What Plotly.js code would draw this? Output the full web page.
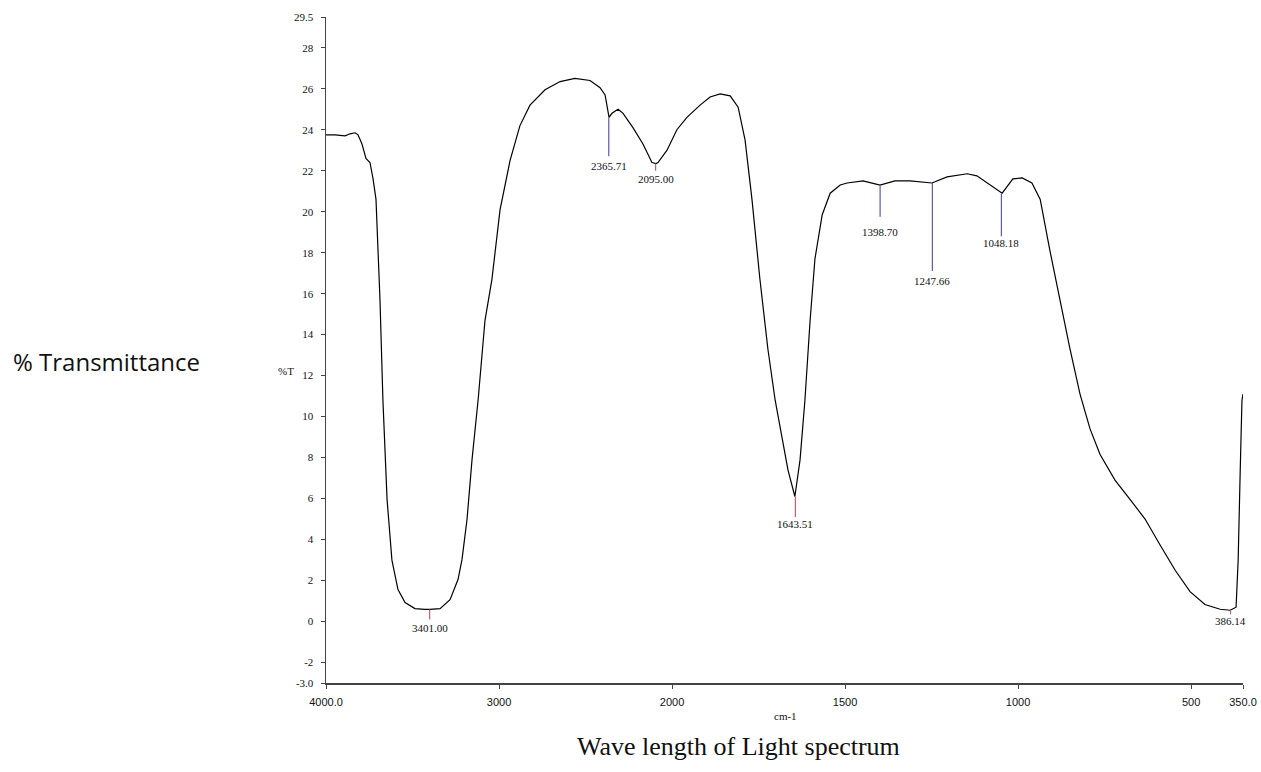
<!DOCTYPE html>
<html>
<head>
<meta charset="utf-8">
<script src="https://cdn.plot.ly/plotly-3.0.1.min.js"></script>
<style>html,body{margin:0;padding:0;background:#fff}#chart{width:1261px;height:772px}</style>
</head>
<body>
<div id="chart"></div>
<script>
// ---- data (wavenumber in cm-1, %T) ----
const wavenumber = [4000,3948,3890,3861,3832,3815,3792,3769,3746,3728,3711,3699,3688,3671,3647,3619,3584,3543,3486,3430,3399,3341,3283,3237,3214,3185,3156,3121,3081,3041,2994,2936,2879,2821,2734,2647,2561,2474,2416,2387,2364,2347,2312,2283,2226,2168,2116,2093,2081,2029,1986,1957,1919,1890,1861,1832,1809,1789,1769,1746,1723,1702,1682,1665,1645,1630,1616,1601,1587,1566,1543,1514,1494,1448,1399,1356,1312,1249,1205,1147,1119,1081,1046,1015,988,960,936,908,879,850,821,792,763,720,676,633,590,546,503,460,416,387,370,364,358,353,350];
const transmittance = [23.75,23.75,23.7,23.8,23.85,23.75,23.3,22.6,22.4,21.6,20.6,18.2,15.7,10.8,5.95,3.0,1.56,0.93,0.63,0.59,0.59,0.63,1.07,2.05,3.02,4.98,7.9,10.8,14.7,16.7,20.1,22.5,24.2,25.2,25.95,26.35,26.5,26.4,26.05,25.7,24.6,24.8,25.0,24.8,24.1,23.3,22.4,22.35,22.4,23.0,24.0,24.6,25.2,25.6,25.75,25.65,25.1,23.5,20.6,16.7,13.3,10.8,8.9,7.4,6.1,7.9,10.8,14.7,17.7,19.85,20.9,21.3,21.4,21.5,21.3,21.5,21.5,21.4,21.7,21.85,21.75,21.3,20.9,21.6,21.65,21.4,20.6,18.1,15.7,13.3,11.1,9.4,8.15,6.9,5.95,5.0,3.75,2.5,1.46,0.83,0.6,0.55,0.7,3.0,7.4,10.8,11.1];

// peak picks
const peakWavenumbers = [3401.00,2365.71,2095.00,1643.51,1398.70,1247.66,1048.18,386.14];
const peakLabels = ["3401.00","2365.71","2095.00","1643.51","1398.70","1247.66","1048.18","386.14"];
const peakCurveT = [0.59,24.6,22.35,6.1,21.3,21.4,20.9,0.55];
const peakLineEndT = [0.1,22.7,22.0,5.1,19.75,17.1,18.8,0.35];
const peakLabelT = [-0.3,22.25,21.6,4.75,19.0,16.6,18.45,0.05];
const peakKind = ["r","b","r","r","b","b","b","r"];

// axis ticks
const xTickValues = [4000,3000,2000,1500,1000,500,350];
const xTickText = ["4000.0","3000","2000","1500","1000","500","350.0"];
const yTickValues = [29.5,28,26,24,22,20,18,16,14,12,10,8,6,4,2,0,-2,-3];
const yTickText = ["29.5","28","26","24","22","20","18","16","14","12","10","8","6","4","2","0","-2","-3.0"];

// ---- the instrument's split x-scale: 4000-2000 at 1x, below 2000 at 2x ----
function toU(w){ return w >= 2000 ? 4000 - w : 2000 + 2*(2000 - w); }

const W = 1261, H = 772;
const M = {l:326, r:18, t:17, b:89};
const px2paperX = p => (p - M.l) / (W - M.l - M.r);
const px2paperY = p => 1 - (p - M.t) / (H - M.t - M.b);

const colors = {r:"rgb(192,96,110)", b:"rgb(92,92,165)"};

const traces = [{
  x: wavenumber.map(toU), y: transmittance, mode: "lines",
  line: {color: "#000", width: 1.2}, hoverinfo: "skip", showlegend: false
}];

const shapes = [];
const annotations = [];
peakWavenumbers.forEach((w,i) => {
  shapes.push({type:"line", xref:"x", yref:"y", x0:toU(w), x1:toU(w), y0:peakCurveT[i], y1:peakLineEndT[i],
    line:{color:colors[peakKind[i]], width:1.2}});
  annotations.push({xref:"x", yref:"y", x:toU(w), y:peakLabelT[i], text:peakLabels[i], showarrow:false,
    xanchor:"center", yanchor:"middle", font:{family:"Liberation Serif, serif", size:11, color:"#111"}});
});

annotations.push({xref:"paper", yref:"paper", x:px2paperX(286), y:px2paperY(371), text:"%T", showarrow:false,
  xanchor:"center", yanchor:"middle", font:{family:"Liberation Serif, serif", size:11, color:"#111"}});
annotations.push({xref:"paper", yref:"paper", x:px2paperX(11), y:px2paperY(361), text:"% Transmittance", showarrow:false,
  xanchor:"left", yanchor:"middle", font:{family:"Open Sans, sans-serif", size:24, color:"#111"}});
annotations.push({xref:"paper", yref:"paper", x:px2paperX(785), y:px2paperY(716), text:"cm-1", showarrow:false,
  xanchor:"center", yanchor:"middle", font:{family:"Liberation Serif, serif", size:11, color:"#111"}});
annotations.push({xref:"paper", yref:"paper", x:px2paperX(575), y:px2paperY(746), text:"Wave length of Light spectrum", showarrow:false,
  xanchor:"left", yanchor:"middle", font:{family:"Liberation Serif, serif", size:26, color:"#111"}});

const layout = {
  width: W, height: H, margin: M,
  paper_bgcolor: "#fff", plot_bgcolor: "#fff",
  showlegend: false,
  xaxis: {range:[0,5300], showgrid:false, zeroline:false, showline:true, linecolor:"#444", linewidth:1.5,
    ticks:"outside", ticklen:4, tickcolor:"#444", tickvals:xTickValues.map(toU), ticktext:xTickText,
    ticklabelstandoff:4,
    tickfont:{family:"Liberation Sans, sans-serif", size:11, color:"#111"}, fixedrange:true},
  yaxis: {range:[-3,29.5], showgrid:false, zeroline:false, showline:true, linecolor:"#444", linewidth:1.5,
    ticks:"outside", ticklen:4, tickcolor:"#444", tickvals:yTickValues, ticktext:yTickText,
    ticklabelstandoff:5,
    tickfont:{family:"Liberation Serif, serif", size:11, color:"#111"}, fixedrange:true},
  shapes: shapes, annotations: annotations
};

Plotly.newPlot("chart", traces, layout, {staticPlot:true, displayModeBar:false});
</script>
</body>
</html>
